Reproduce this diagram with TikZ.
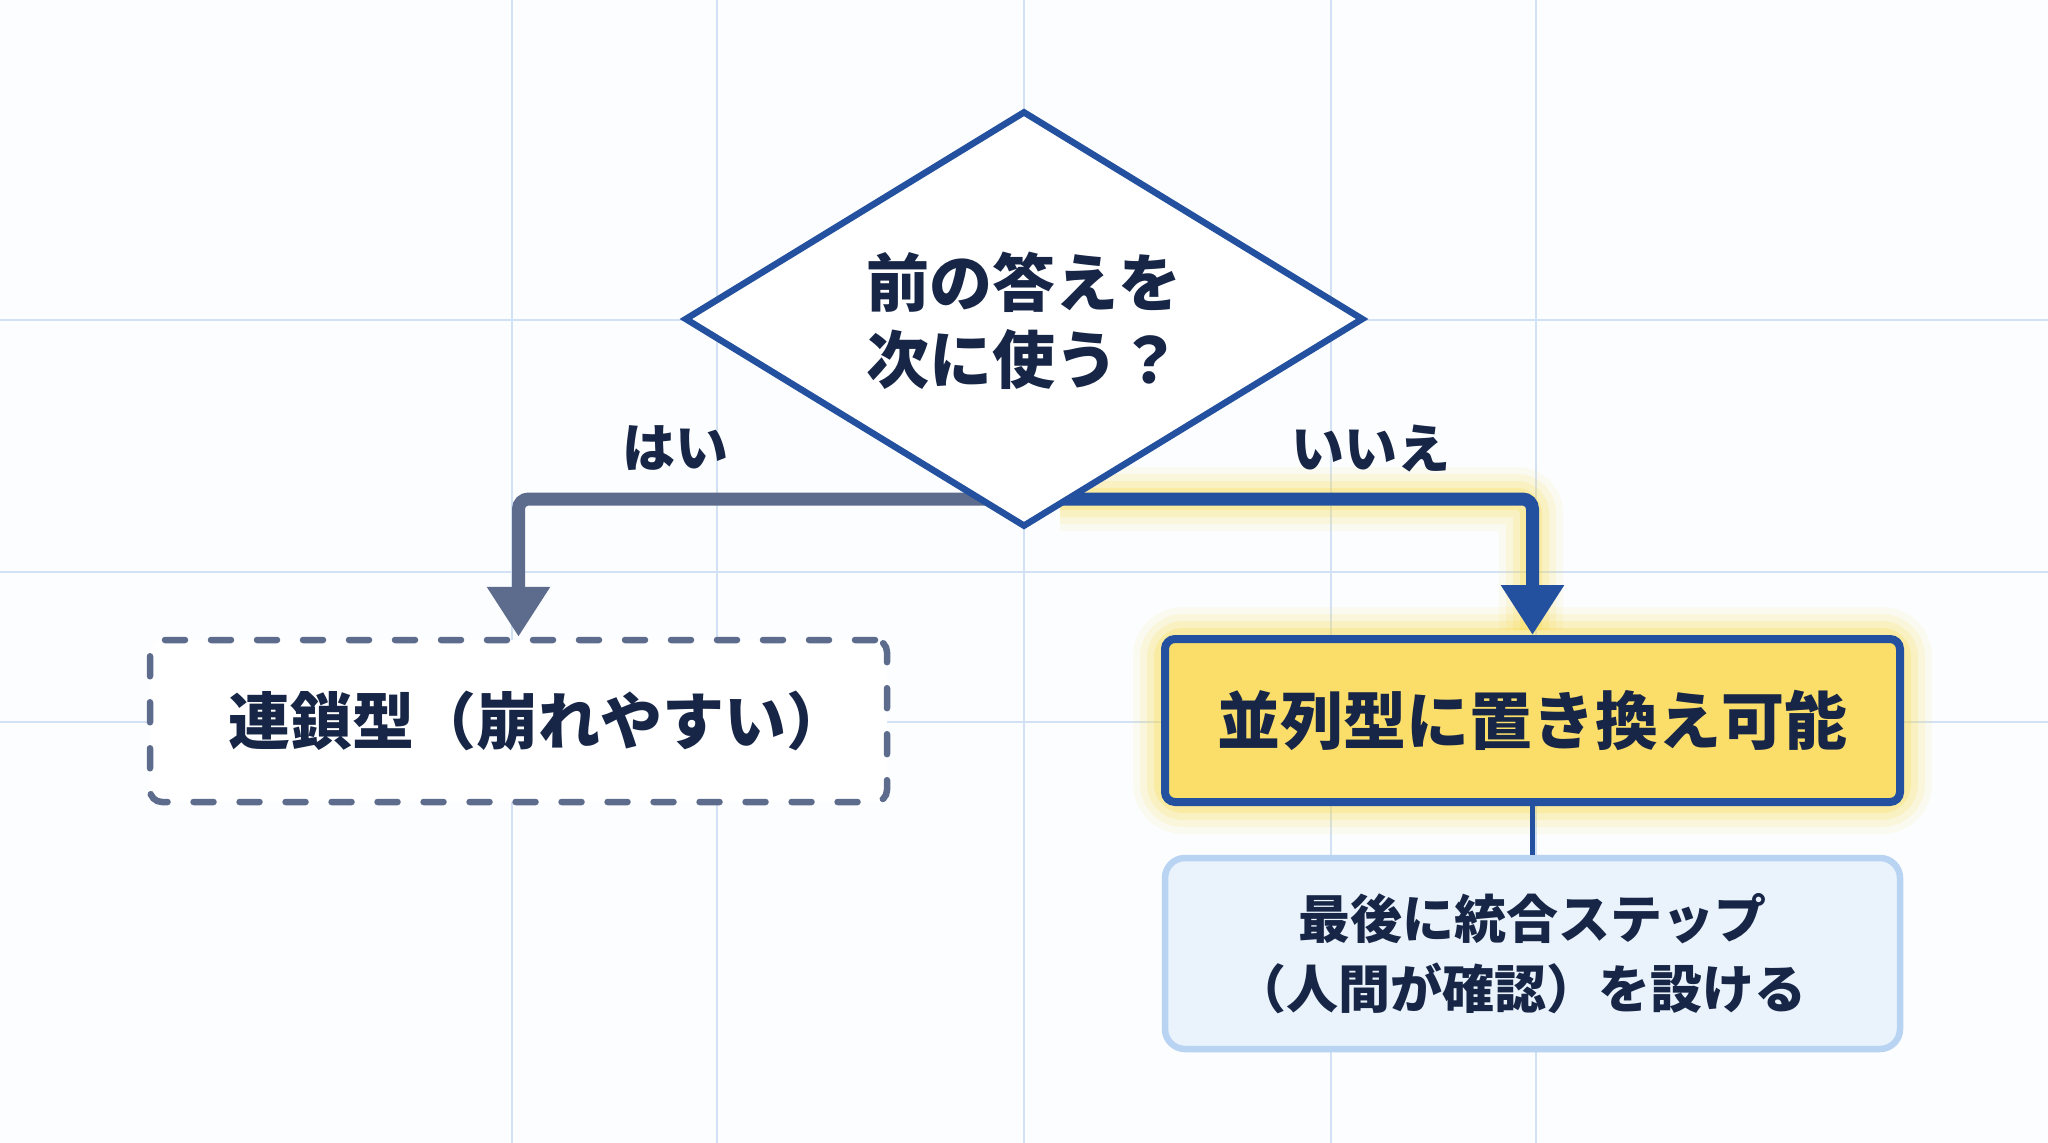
\documentclass[tikz,border=0pt]{standalone}
\usepackage{fontspec}
\newfontfamily\jp{Noto Sans CJK JP}
\usetikzlibrary{shapes.geometric,arrows.meta}
\definecolor{bg}{HTML}{FCFDFF}
\definecolor{gridc}{HTML}{D3E1F5}
\definecolor{navy}{HTML}{172646}
\definecolor{blueline}{HTML}{24519F}
\definecolor{slate}{HTML}{5D6C8C}
\definecolor{gold}{HTML}{FBDE6A}
\definecolor{glowc}{HTML}{F9DA45}
\definecolor{pale}{HTML}{EAF3FC}
\definecolor{paleline}{HTML}{B9D4F2}
\tikzset{
  jptext/.style n args={2}{text=navy, font=\jp\bfseries\fontsize{#1}{#2}\selectfont, align=center, inner sep=0pt},
  gridline/.style={gridc, line width=2pt},
  decision/.style={shape=diamond, draw=blueline, fill=white, line width=6.5pt, minimum width=679pt, minimum height=416pt, inner sep=0pt},
  chainbox/.style={draw=slate, line width=6.5pt, dash pattern=on 20pt off 26pt, line cap=round, rounded corners=12pt, fill=white, minimum width=737pt, minimum height=162pt, inner sep=0pt},
  parbox/.style={draw=blueline, fill=gold, line width=8pt, rounded corners=10pt, minimum width=735pt, minimum height=163pt, inner sep=0pt},
  notebox/.style={draw=paleline, fill=pale, line width=6.5pt, rounded corners=20pt, minimum width=735pt, minimum height=191pt, inner sep=0pt},
  yesarrow/.style={slate, line width=13pt, rounded corners=10pt, -{Triangle[width=60pt,length=50pt]}},
  noarrow/.style={blueline, line width=13pt, rounded corners=10pt, -{Triangle[width=60pt,length=50pt]}},
}
\begin{document}
\begin{tikzpicture}[x=1pt,y=-1pt]
\useasboundingbox (0,0) rectangle (2048,1143);
\fill[bg] (0,0) rectangle (2048,1143);
% grid
\foreach \gx in {512,717,1024,1331,1536} \draw[gridline] (\gx,0) -- (\gx,1143);
\foreach \gy in {320,572,722} \draw[gridline] (0,\gy) -- (2048,\gy);

\path (1024,319) coordinate (dc);
\node[chainbox] (chain) at (518.5,721) {};
\node[notebox] (note) at (1532.5,953.5) {};
\node[coordinate] (parc) at (1532.5,720.5) {};

% glow around the no-path and the parallel box
\foreach \w/\o in {64pt/0.08,50pt/0.12,36pt/0.16,22pt/0.25} {
  \draw[glowc, line width=\w, opacity=\o, rounded corners=14pt] (1060,499) -| (1531,630);
  \draw[glowc, line width=\w, opacity=\o, rounded corners=18pt] (1165,639) rectangle (1900,802);
}

\node[parbox] (par) at (parc) {};

% connectors
\draw[yesarrow] (1024,499) -| (chain.north);
\draw[noarrow] (1024,499) -| (par.north);
\draw[blueline, line width=5pt] (par.south) -- (note.north);

% decision diamond drawn on top
\node[decision] (d) at (dc) {};
\node[jptext={63}{77}] (dq) at (1024,321) {前の答えを\\次に使う？};

% labels
\node[jptext={53}{60}] (yes) at (675,448) {はい};
\node[jptext={53}{60}] (no) at (1371,448) {いいえ};

% box texts
\node[jptext={62}{70}] (chaintext) at ([xshift=20pt]chain.center) {連鎖型（崩れやすい）};
\node[jptext={63}{70}] (partext) at (par.center) {並列型に置き換え可能};
\node[jptext={52}{70}] (notetext) at (note.center) {最後に統合ステップ\\（人間が確認）を設ける\hspace*{24pt}};
\end{tikzpicture}
\end{document}
